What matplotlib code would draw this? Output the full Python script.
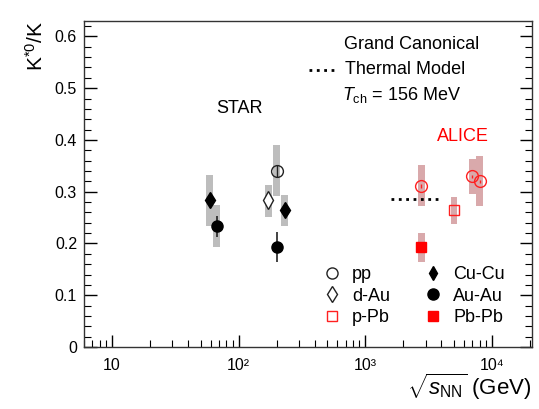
import matplotlib.pyplot as plt
from matplotlib.lines import Line2D
from matplotlib.ticker import MultipleLocator, LogLocator, NullFormatter

plt.rcParams.update({
    'font.family': ['Liberation Sans', 'DejaVu Sans'],
    'mathtext.fontset': 'custom',
    'mathtext.rm': 'Liberation Sans',
    'mathtext.it': 'Liberation Sans:italic',
    'font.size': 11,
})

# =====================
# Data
# =====================
# STAR
star_pp_x, star_pp_y, star_pp_lo, star_pp_hi = [200], [0.340], [0.291], [0.390]
star_dau_x, star_dau_y, star_dau_lo, star_dau_hi = [172], [0.284], [0.252], [0.313]
star_cucu_x = [59, 231]
star_cucu_y = [0.284, 0.264]
star_cucu_lo = [0.233, 0.233]
star_cucu_hi = [0.332, 0.293]
star_auau_x = [67, 200]
star_auau_y = [0.233, 0.194]
star_auau_lo = [0.194, None]
star_auau_hi = [0.274, None]
star_auau_stat = [0.020, 0.029]

# ALICE
alice_pp_x = [2760, 7000, 8000]
alice_pp_y = [0.311, 0.330, 0.320]
alice_pp_lo = [0.272, 0.295, 0.272]
alice_pp_hi = [0.351, 0.363, 0.369]
alice_ppb_x, alice_ppb_y, alice_ppb_lo, alice_ppb_hi = [5020], [0.264], [0.237], [0.289]
alice_pbpb_x, alice_pbpb_y, alice_pbpb_lo, alice_pbpb_hi = [2760], [0.194], [0.165], [0.221]

# Thermal model
thermal_x = [1600, 4050]
thermal_y = [0.285, 0.285]

# =====================
# Plot setup
# =====================
fig = plt.figure(figsize=(5.39, 4.09), dpi=100)
ax = fig.add_axes([0.1558, 0.1516, 0.831, 0.7974])
ax.set_xscale('log')

f = 10 ** 0.027  # half box width factor (log)
gray = '#bdbdbd'
rose = '#d9a9ab'


def boxes(xs, los, his, color):
    for x, lo, hi in zip(xs, los, his):
        if lo is None:
            continue
        ax.bar(x / f, hi - lo, bottom=lo, width=x * f - x / f, align='edge',
               color=color, edgecolor='none', zorder=1)


boxes(star_pp_x, star_pp_lo, star_pp_hi, gray)
boxes(star_dau_x, star_dau_lo, star_dau_hi, gray)
boxes(star_cucu_x, star_cucu_lo, star_cucu_hi, gray)
boxes(star_auau_x, star_auau_lo, star_auau_hi, gray)
boxes(alice_pp_x, alice_pp_lo, alice_pp_hi, rose)
boxes(alice_ppb_x, alice_ppb_lo, alice_ppb_hi, rose)
boxes(alice_pbpb_x, alice_pbpb_lo, alice_pbpb_hi, rose)

# stat error bars
ax.errorbar(star_auau_x, star_auau_y, yerr=star_auau_stat, fmt='none',
            ecolor='#222222', elinewidth=1.2, zorder=2)
ax.errorbar(star_pp_x, star_pp_y, yerr=0.012, fmt='none',
            ecolor='#222222', elinewidth=1.0, zorder=2)
ax.errorbar(alice_pp_x, alice_pp_y, yerr=0.003, fmt='none',
            ecolor='#ff2020', elinewidth=1.0, zorder=2)

# markers
ax.plot(star_pp_x, star_pp_y, 'o', mfc='none', mec='#222222', ms=8.5, mew=1.0, zorder=3)
ax.plot(star_dau_x, star_dau_y, 'd', mfc='white', mec='#222222', ms=9, mew=1.0, zorder=3)
ax.plot(star_cucu_x, star_cucu_y, 'd', color='black', ms=8, zorder=3)
ax.plot(star_auau_x, star_auau_y, 'o', color='black', ms=8, zorder=3)
ax.plot(alice_pp_x, alice_pp_y, 'o', mfc='none', mec='#ff2020', ms=8.5, mew=1.0, zorder=3)
ax.plot(alice_ppb_x, alice_ppb_y, 's', mfc='none', mec='#ff2020', ms=7.5, mew=1.0, zorder=3)
ax.plot(alice_pbpb_x, alice_pbpb_y, 's', color='red', ms=7.5, zorder=3)

# thermal model line
ax.plot(thermal_x, thermal_y, ':', color='black', lw=2, zorder=2)

# =====================
# Labels & Formatting
# =====================
ax.set_xlim(6, 2.07e4)
ax.set_ylim(0, 0.63)
ax.yaxis.set_minor_locator(MultipleLocator(0.02))
ax.set_yticks([0, 0.1, 0.2, 0.3, 0.4, 0.5, 0.6])
ax.set_yticklabels(['0', '0.1', '0.2', '0.3', '0.4', '0.5', '0.6'])
ax.xaxis.set_minor_locator(LogLocator(base=10, subs=range(2, 10), numticks=50))
ax.xaxis.set_minor_formatter(NullFormatter())
ax.set_xticks([10, 100, 1000, 10000])
ax.set_xticklabels(['10', '10\u00b2', '10\u00b3', '10\u2074'])
for lab in ax.get_xticklabels():
    lab.set_verticalalignment('baseline')

ax.tick_params(which='both', direction='in', top=False, right=True, labelsize=11.5)
ax.tick_params(which='major', length=9, width=1.0)
ax.tick_params(which='minor', length=5, width=0.8)
ax.tick_params(axis='x', pad=16.5)
ax.tick_params(axis='y', pad=5)
for s in ax.spines.values():
    s.set_linewidth(1.0)
    s.set_color('#333333')

ax.set_ylabel('K$^{*0}$/K', fontsize=15, loc='top', labelpad=6)
ax.set_xlabel(r'$\sqrt{s_{\rm NN}}$ (GeV)', fontsize=16, ha='right', va='top')
ax.xaxis.set_label_coords(1.0, -0.075)

ax.text(0.348, 0.732, 'STAR', transform=ax.transAxes, fontsize=13, ha='center', va='center')
ax.text(0.846, 0.645, 'ALICE', transform=ax.transAxes, fontsize=13, ha='center',
        va='center', color='red')

ax.text(0.581, 0.929, 'Grand Canonical', transform=ax.transAxes, fontsize=13, va='center')
ax.text(0.583, 0.850, 'Thermal Model', transform=ax.transAxes, fontsize=13, va='center')
ax.text(0.575, 0.773, r'$T_{\rm ch}$ = 156 MeV', transform=ax.transAxes, fontsize=13, va='center')
ax.plot([0.502, 0.558], [0.850, 0.850], ':', color='black', lw=2, transform=ax.transAxes)

handles = [
    Line2D([], [], ls='none', marker='o', mfc='none', mec='#222222', ms=8, label='pp'),
    Line2D([], [], ls='none', marker='d', mfc='none', mec='#222222', ms=8, label='d-Au'),
    Line2D([], [], ls='none', marker='s', mfc='none', mec='#ff2020', ms=7.5, label='p-Pb'),
    Line2D([], [], ls='none', marker='d', color='black', ms=7, label='Cu-Cu'),
    Line2D([], [], ls='none', marker='o', color='black', ms=8, label='Au-Au'),
    Line2D([], [], ls='none', marker='s', color='red', ms=7.5, label='Pb-Pb'),
]
ax.legend(handles=handles, ncol=2, loc='lower left', bbox_to_anchor=(0.518, 0.042),
          frameon=False, fontsize=13, handlelength=1.0, handletextpad=0.6,
          columnspacing=1.9, labelspacing=0.25, borderaxespad=0)

plt.savefig('out.png', dpi=100)
